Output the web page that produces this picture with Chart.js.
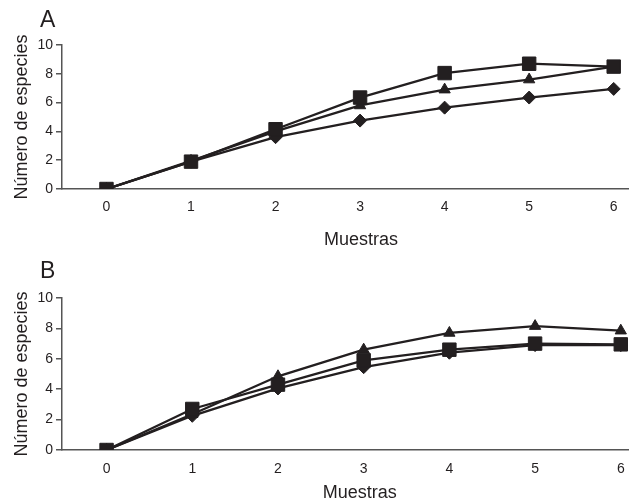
<!DOCTYPE html>
<html><head><meta charset="utf-8">
<script src="https://cdn.jsdelivr.net/npm/chart.js@4"></script>
<style>
body{margin:0;background:#fff;overflow:hidden}
.w{position:absolute;left:0;width:639px}
#wa{top:0;height:250px}
#wb{top:250px;height:252px}
</style>
</head><body>
<div class="w" id="wa"><canvas id="ca"></canvas></div>
<div class="w" id="wb"><canvas id="cb"></canvas></div>
<script>
// ---- data ----
const muestras = [0, 1, 2, 3, 4, 5, 6];
const xTickLabels = ['0', '1', '2', '3', '4', '5', '6'];
const yTickValues = [0, 2, 4, 6, 8, 10];
const yAxisTitle = 'Número de especies';
const xAxisTitle = 'Muestras';

const aCuadrados  = [0, 1.9, 4.15, 6.35, 8.05, 8.7, 8.5];
const aTriangulos = [0, 1.95, 4.0, 5.8, 6.9, 7.6, 8.5];
const aRombos     = [0, 1.9, 3.6, 4.75, 5.65, 6.35, 6.95];

const bTriangulos = [0, 2.35, 4.85, 6.6, 7.7, 8.15, 7.85];
const bCuadrados  = [0, 2.7, 4.3, 5.9, 6.6, 7.0, 6.95];
const bRombos     = [0, 2.25, 4.05, 5.45, 6.4, 6.9, 6.9];

// ---- styling ----
const INK = '#231f20';
const AXIS = '#555555';
const FONT = "'Liberation Sans', Arial, Helvetica, sans-serif";

function ds(values, style, radius, order) {
  return {
    data: muestras.map((m, i) => ({x: m, y: values[i]})),
    borderColor: INK, borderWidth: 2.3,
    backgroundColor: INK,
    pointStyle: style, pointRadius: radius, pointHoverRadius: radius,
    pointBackgroundColor: INK, pointBorderColor: INK, pointBorderWidth: 1,
    tension: 0, order: order
  };
}

const textPlugin = {
  id: 'panelText',
  afterDraw(chart, args, opts) {
    const ctx = chart.ctx;
    ctx.save();
    ctx.fillStyle = INK;
    ctx.textBaseline = 'alphabetic';
    ctx.textAlign = 'left';
    ctx.font = '23px ' + FONT;
    ctx.fillText(opts.letter, opts.letterX, opts.letterY);
    ctx.textAlign = 'center';
    ctx.font = '18px ' + FONT;
    const xs = chart.scales.x;
    ctx.fillText(xAxisTitle, xs.getPixelForValue(3) + opts.titleDx, opts.titleY);
    ctx.restore();
  }
};

function makeChart(id, datasets, cfg) {
  return new Chart(document.getElementById(id), {
    type: 'line',
    data: {datasets},
    options: {
      responsive: true, maintainAspectRatio: false, animation: false,
      layout: {padding: {top: cfg.top, right: 4, left: 0, bottom: 0}},
      plugins: {legend: {display: false}, tooltip: {enabled: false},
        panelText: {letter: cfg.letter, letterX: 40, letterY: cfg.letterY, titleY: cfg.titleY, titleDx: cfg.titleDx}},
      scales: {
        x: {
          type: 'linear', min: cfg.xmin, max: cfg.xmax,
          afterBuildTicks: s => { s.ticks = muestras.map(v => ({value: v})); },
          afterFit: s => { s.height = cfg.xh; },
          ticks: {font: {family: FONT, size: 14}, color: INK, padding: cfg.xpad,
                  callback: (v) => xTickLabels[muestras.indexOf(v)] ?? ''},
          grid: {drawOnChartArea: false, drawTicks: false},
          border: {color: AXIS, width: 1.5}
        },
        y: {
          min: 0, max: 10,
          afterBuildTicks: s => { s.ticks = yTickValues.map(v => ({value: v})); },
          afterFit: s => { s.width = 62; },
          ticks: {font: {family: FONT, size: 14}, color: INK, padding: 3},
          grid: {drawOnChartArea: false, drawTicks: true, tickLength: 6, color: AXIS, lineWidth: 1.5},
          border: {color: AXIS, width: 1.5},
          title: {display: true, text: yAxisTitle, color: INK,
                  font: {family: FONT, size: 18}, padding: {top: 11, bottom: 0}}
        }
      }
    },
    plugins: [textPlugin]
  });
}

makeChart('ca', [
  ds(aCuadrados, 'rect', 9.5, 1),
  ds(aTriangulos, 'triangle', 6.5, 2),
  ds(aRombos, 'rectRot', 6.5, 3)
], {top: 45, xh: 61, xmin: -0.526, xmax: 6.175, xpad: 10, letter: 'A', letterY: 27, titleY: 245, titleDx: 1});

makeChart('cb', [
  ds(bCuadrados, 'rect', 9.5, 1),
  ds(bTriangulos, 'triangle', 6.5, 2),
  ds(bRombos, 'rectRot', 6.5, 3)
], {top: 48, xh: 52, xmin: -0.52, xmax: 6.09, xpad: 11, letter: 'B', letterY: 28, titleY: 248, titleDx: -4});
</script>
</body></html>
